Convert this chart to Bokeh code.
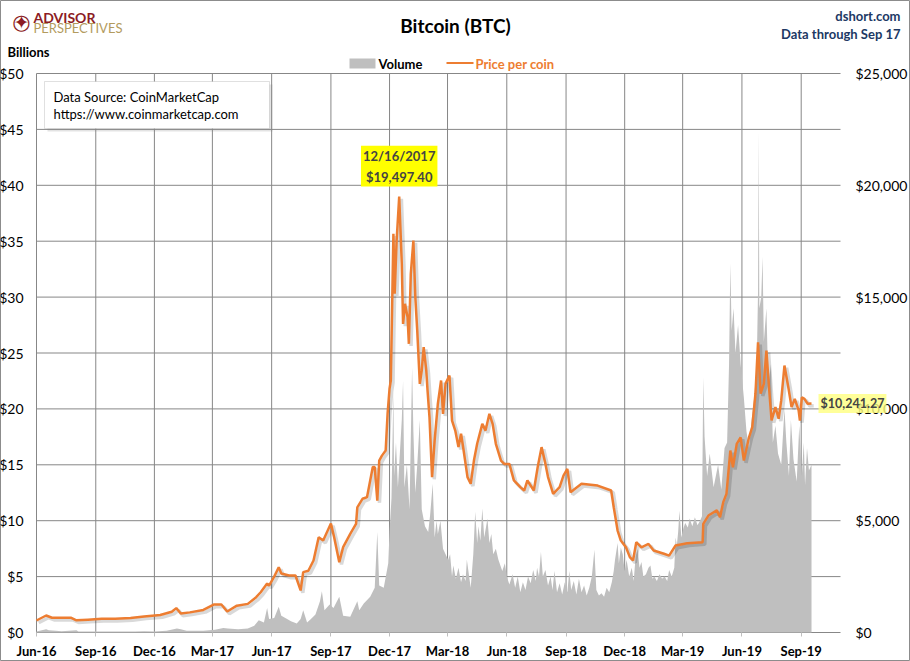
import pandas as pd
from bokeh.plotting import figure
from bokeh.models import (Range1d, LinearAxis, FixedTicker, NumeralTickFormatter,
                          DatetimeTickFormatter, MonthsTicker, Label, BoxAnnotation,
                          ColumnDataSource)
from bokeh.transform import dodge
from bokeh.embed import file_html
from bokeh.resources import INLINE

# ---------------- data ----------------
price_dates = [
    "2016-06-01", "2016-06-16", "2016-06-25", "2016-07-10", "2016-07-25", "2016-08-02",
    "2016-08-20", "2016-09-10", "2016-10-01", "2016-10-25", "2016-11-15", "2016-12-10",
    "2016-12-28", "2017-01-04", "2017-01-11", "2017-01-25", "2017-02-15", "2017-03-03",
    "2017-03-15", "2017-03-24", "2017-04-08", "2017-04-25", "2017-05-08", "2017-05-15",
    "2017-05-25", "2017-05-28", "2017-06-05", "2017-06-12", "2017-06-16", "2017-06-28",
    "2017-07-08", "2017-07-16", "2017-07-20", "2017-07-28", "2017-08-05", "2017-08-13",
    "2017-08-20", "2017-09-01", "2017-09-06", "2017-09-14", "2017-09-20", "2017-10-01",
    "2017-10-10", "2017-10-12", "2017-10-20", "2017-10-27", "2017-11-05", "2017-11-08",
    "2017-11-12", "2017-11-15", "2017-11-19", "2017-11-25", "2017-11-28", "2017-12-01",
    "2017-12-03", "2017-12-07", "2017-12-09", "2017-12-12", "2017-12-16", "2017-12-20",
    "2017-12-22", "2017-12-25", "2017-12-29", "2017-12-31", "2018-01-03", "2018-01-07",
    "2018-01-10", "2018-01-13", "2018-01-17", "2018-01-20", "2018-01-23", "2018-01-27",
    "2018-01-29", "2018-02-01", "2018-02-05", "2018-02-09", "2018-02-14", "2018-02-19",
    "2018-02-22", "2018-02-26", "2018-03-04", "2018-03-08", "2018-03-13", "2018-03-18",
    "2018-03-22", "2018-03-26", "2018-04-01", "2018-04-06", "2018-04-11", "2018-04-16",
    "2018-04-24", "2018-04-29", "2018-05-05", "2018-05-10", "2018-05-15", "2018-05-23",
    "2018-05-28", "2018-06-05", "2018-06-12", "2018-06-22", "2018-06-28", "2018-07-03",
    "2018-07-13", "2018-07-19", "2018-07-25", "2018-07-31", "2018-08-04", "2018-08-12",
    "2018-08-22", "2018-08-28", "2018-09-03", "2018-09-08", "2018-09-25", "2018-10-20",
    "2018-11-10", "2018-11-14", "2018-11-20", "2018-11-25", "2018-12-03", "2018-12-09",
    "2018-12-14", "2018-12-19", "2018-12-27", "2019-01-07", "2019-01-15", "2019-01-31",
    "2019-02-08", "2019-02-18", "2019-03-08", "2019-04-01", "2019-04-02", "2019-04-10",
    "2019-04-23", "2019-04-28", "2019-05-03", "2019-05-08", "2019-05-14", "2019-05-18",
    "2019-05-24", "2019-05-30", "2019-06-04", "2019-06-12", "2019-06-17", "2019-06-22",
    "2019-06-26", "2019-06-30", "2019-07-05", "2019-07-09", "2019-07-13", "2019-07-17",
    "2019-07-23", "2019-07-28", "2019-08-01", "2019-08-06", "2019-08-12", "2019-08-17",
    "2019-08-22", "2019-08-28", "2019-08-30", "2019-09-02", "2019-09-06", "2019-09-11",
    "2019-09-17",
]
price_usd = [
    537, 760, 660, 665, 655, 545,
    575, 610, 615, 650, 720, 780,
    930, 1090, 850, 900, 1010, 1250,
    1250, 940, 1200, 1280, 1580, 1800,
    2190, 2100, 2500, 2920, 2640, 2550,
    2550, 1880, 2700, 2760, 3220, 4260,
    4110, 4870, 4260, 3145, 3820, 4410,
    4860, 5600, 5980, 6050, 7400, 7400,
    5900, 7690, 7900, 8140, 9800, 10900,
    11270, 17830, 15150, 17530, 19497, 16490,
    13800, 14700, 14100, 12910, 16040, 17530,
    15000, 13500, 11120, 11720, 12760, 11720,
    10820, 9630, 6950, 8590, 10230, 11270,
    9780, 11130, 11490, 9480, 9030, 8290,
    8890, 8140, 6950, 6650, 7690, 8440,
    9330, 9030, 9780, 9330, 8440, 7690,
    7540, 7540, 6800, 6500, 6350, 6800,
    6350, 7400, 8290, 7540, 6950, 6200,
    6500, 7020, 7320, 6270, 6650, 6570,
    6350, 5600, 4560, 4110, 3810, 3370,
    3220, 4040, 3810, 3960, 3670, 3520,
    3440, 3890, 3990, 4040, 4860, 5230,
    5460, 5160, 5830, 6200, 8140, 7390,
    8440, 8730, 7690, 8730, 9180, 10680,
    12980, 10680, 11120, 12610, 10970, 9480,
    10080, 9560, 10380, 11940, 10970, 10080,
    10450, 9930, 9480, 10520, 10450, 10230,
    10241,
]

vol_dates = [
    "2016-06-01", "2016-06-16", "2016-06-20", "2016-07-01", "2016-07-10", "2016-08-02",
    "2016-08-05", "2016-09-01", "2016-10-01", "2016-11-01", "2016-11-15", "2016-12-01",
    "2016-12-20", "2017-01-05", "2017-01-11", "2017-01-20", "2017-02-15", "2017-03-05",
    "2017-03-18", "2017-03-25", "2017-04-10", "2017-04-25", "2017-05-05", "2017-05-12",
    "2017-05-20", "2017-05-25", "2017-05-28", "2017-06-05", "2017-06-12", "2017-06-16",
    "2017-06-25", "2017-07-01", "2017-07-10", "2017-07-16", "2017-07-20", "2017-07-26",
    "2017-08-01", "2017-08-08", "2017-08-15", "2017-08-18", "2017-08-22", "2017-08-30",
    "2017-09-05", "2017-09-14", "2017-09-20", "2017-10-01", "2017-10-12", "2017-10-15",
    "2017-10-22", "2017-11-01", "2017-11-08", "2017-11-12", "2017-11-15", "2017-11-22",
    "2017-11-29", "2017-12-01", "2017-12-04", "2017-12-07", "2017-12-08", "2017-12-11",
    "2017-12-14", "2017-12-17", "2017-12-20", "2017-12-22", "2017-12-24", "2017-12-28",
    "2018-01-01", "2018-01-05", "2018-01-07", "2018-01-10", "2018-01-13", "2018-01-17",
    "2018-01-20", "2018-01-25", "2018-01-30", "2018-02-02", "2018-02-06", "2018-02-09",
    "2018-02-12", "2018-02-14", "2018-02-18", "2018-02-22", "2018-02-26", "2018-03-02",
    "2018-03-05", "2018-03-08", "2018-03-10", "2018-03-14", "2018-03-18", "2018-03-22",
    "2018-03-25", "2018-03-29", "2018-03-31", "2018-04-06", "2018-04-10", "2018-04-13",
    "2018-04-16", "2018-04-18", "2018-04-21", "2018-04-24", "2018-04-27", "2018-05-02",
    "2018-05-05", "2018-05-08", "2018-05-11", "2018-05-15", "2018-05-19", "2018-05-25",
    "2018-05-29", "2018-06-01", "2018-06-05", "2018-06-10", "2018-06-14", "2018-06-18",
    "2018-06-22", "2018-06-26", "2018-06-30", "2018-07-04", "2018-07-08", "2018-07-12",
    "2018-07-16", "2018-07-18", "2018-07-21", "2018-07-24", "2018-07-27", "2018-07-31",
    "2018-08-04", "2018-08-08", "2018-08-11", "2018-08-14", "2018-08-18", "2018-08-22",
    "2018-08-26", "2018-08-30", "2018-09-03", "2018-09-06", "2018-09-09", "2018-09-13",
    "2018-09-17", "2018-09-21", "2018-09-25", "2018-09-29", "2018-10-03", "2018-10-07",
    "2018-10-11", "2018-10-15", "2018-10-18", "2018-10-22", "2018-10-26", "2018-10-30",
    "2018-11-03", "2018-11-07", "2018-11-11", "2018-11-14", "2018-11-16", "2018-11-20",
    "2018-11-22", "2018-11-25", "2018-11-28", "2018-12-01", "2018-12-04", "2018-12-08",
    "2018-12-12", "2018-12-15", "2018-12-18", "2018-12-21", "2018-12-24", "2018-12-27",
    "2018-12-30", "2019-01-03", "2019-01-07", "2019-01-10", "2019-01-13", "2019-01-16",
    "2019-01-20", "2019-01-24", "2019-01-28", "2019-02-01", "2019-02-05", "2019-02-08",
    "2019-02-12", "2019-02-16", "2019-02-18", "2019-02-20", "2019-02-22", "2019-02-24",
    "2019-02-27", "2019-03-02", "2019-03-05", "2019-03-09", "2019-03-12", "2019-03-16",
    "2019-03-20", "2019-03-24", "2019-03-28", "2019-03-31", "2019-04-02", "2019-04-04",
    "2019-04-08", "2019-04-12", "2019-04-18", "2019-04-25", "2019-04-30", "2019-05-05",
    "2019-05-09", "2019-05-12", "2019-05-14", "2019-05-16", "2019-05-19", "2019-05-22",
    "2019-05-26", "2019-05-30", "2019-06-04", "2019-06-08", "2019-06-12", "2019-06-16",
    "2019-06-20", "2019-06-24", "2019-06-26", "2019-06-27", "2019-06-28", "2019-07-01",
    "2019-07-03", "2019-07-05", "2019-07-09", "2019-07-12", "2019-07-16", "2019-07-19",
    "2019-07-23", "2019-07-27", "2019-08-01", "2019-08-06", "2019-08-09", "2019-08-13",
    "2019-08-16", "2019-08-20", "2019-08-25", "2019-08-29", "2019-09-02", "2019-09-05",
    "2019-09-07", "2019-09-10", "2019-09-13", "2019-09-17",
]
vol_bn = [
    0.10, 0.30, 0.20, 0.15, 0.12, 0.20,
    0.10, 0.08, 0.08, 0.10, 0.12, 0.10,
    0.15, 0.35, 0.30, 0.15, 0.15, 0.25,
    0.40, 0.35, 0.30, 0.35, 0.60, 1.10,
    0.90, 2.20, 1.20, 1.30, 2.30, 1.50,
    1.20, 1.00, 0.80, 1.20, 2.00, 0.90,
    1.20, 1.60, 2.80, 3.70, 2.00, 2.50,
    2.20, 3.20, 1.50, 1.40, 2.80, 2.00,
    2.60, 3.20, 4.00, 9.00, 4.20, 4.00,
    6.20, 9.00, 12.0, 21.5, 14.0, 17.0,
    13.0, 16.0, 19.0, 22.5, 13.0, 15.0,
    11.0, 23.7, 18.0, 12.5, 15.0, 19.0,
    11.0, 9.5, 9.0, 10.5, 13.3, 8.5,
    10.0, 8.8, 10.0, 7.5, 7.0, 6.5,
    7.0, 5.0, 6.0, 4.8, 5.8, 4.5,
    5.2, 4.6, 6.5, 4.0, 7.0, 10.8,
    8.0, 9.5, 8.2, 11.1, 8.5, 10.2,
    8.0, 8.8, 7.0, 7.5, 6.5, 5.5,
    6.2, 5.0, 4.3, 5.2, 4.0, 5.0,
    3.6, 4.5, 3.8, 5.0, 4.4, 5.6,
    4.6, 5.8, 5.0, 7.2, 5.0, 5.6,
    4.2, 5.0, 3.8, 5.5, 3.6, 4.4,
    3.4, 4.5, 3.6, 5.5, 3.8, 4.6,
    3.4, 4.8, 3.6, 4.2, 3.3, 4.0,
    5.0, 7.4, 3.8, 3.3, 3.5, 3.2,
    4.0, 3.6, 4.5, 5.5, 6.5, 8.0,
    6.2, 7.6, 7.0, 5.5, 6.5, 5.0,
    5.8, 4.6, 6.8, 7.5, 5.8, 6.3,
    5.0, 5.2, 5.8, 6.0, 4.8, 5.0,
    4.6, 5.2, 4.8, 5.0, 4.6, 5.6,
    5.0, 5.8, 8.5, 7.8, 9.0, 10.9,
    8.5, 9.3, 9.8, 9.4, 10.2, 9.5,
    10.3, 9.6, 10.0, 10.4, 22.8, 17.5,
    14.0, 16.0, 13.0, 15.0, 12.8, 16.5,
    17.0, 24.0, 33.0, 27.0, 29.0, 25.0,
    27.5, 24.0, 21.0, 18.0, 16.5, 19.0,
    21.0, 24.0, 30.5, 45.0, 29.0, 30.0,
    33.6, 26.0, 29.0, 22.0, 24.0, 17.0,
    18.5, 16.0, 15.0, 20.0, 17.0, 14.0,
    19.0, 15.5, 13.5, 18.5, 14.0, 17.0,
    13.2, 16.5, 14.5, 15.0,
]

left_ticks = [0, 5, 10, 15, 20, 25, 30, 35, 40, 45, 50]
right_ticks = [0, 5000, 10000, 15000, 20000, 25000]
axis_start, axis_end = "2016-06-01", "2019-11-01"
quarter_start, quarter_end = "2016-06-01", "2019-09-01"

title_text = "Bitcoin (BTC)"
peak_label = "12/16/2017\n$19,497.40"
last_label = "$10,241.27"

# ---------------- layout (pixels) ----------------
FONT = "Lato"
W, H = 910, 661
X0_PX, X1_PX = 36, 840      # axis start / end on the canvas
Y0_PX, Y1_PX = 632, 73      # value 0 / value 50 on the canvas
VMAX, PMAX = 50, 25000

t0 = pd.Timestamp(axis_start).value / 1e6
t1 = pd.Timestamp(axis_end).value / 1e6
px_per_ms = (X1_PX - X0_PX) / (t1 - t0)
x_lo = t0 - X0_PX / px_per_ms
x_hi = t1 + (W - X1_PX) / px_per_ms
u_per_px = VMAX / (Y0_PX - Y1_PX)
y_lo = -(H - Y0_PX) * u_per_px
y_hi = VMAX + Y1_PX * u_per_px
ratio = PMAX / VMAX

p = figure(width=W, height=H, output_backend="svg", toolbar_location=None,
           x_axis_type="datetime", x_range=Range1d(x_lo, x_hi),
           y_range=Range1d(y_lo, y_hi),
           min_border=0, min_border_left=0, min_border_right=0,
           min_border_top=0, min_border_bottom=0)
p.title.visible = False
p.outline_line_color = "#8C8C8C"
p.background_fill_color = "white"
p.border_fill_color = "white"
p.extra_y_ranges = {"price": Range1d(y_lo * ratio, y_hi * ratio)}
p.xgrid.visible = False
p.ygrid.visible = False

# grid lines (at the tick positions, limited to the plot area)
GRID = "#878787"
p.segment(x0=[pd.Timestamp(axis_start)] * len(left_ticks), y0=left_ticks,
          x1=[pd.Timestamp(axis_end)] * len(left_ticks), y1=left_ticks,
          line_color=GRID, line_width=1, level="underlay")
qdates = pd.date_range(quarter_start, quarter_end, freq="3MS")
p.segment(x0=qdates, y0=[0] * len(qdates), x1=qdates, y1=[VMAX] * len(qdates),
          line_color=GRID, line_width=1, level="underlay")

vsrc = ColumnDataSource(dict(date=pd.to_datetime(vol_dates), vol=vol_bn))
psrc = ColumnDataSource(dict(date=pd.to_datetime(price_dates), price=price_usd))

p.varea(x="date", y1=0, y2="vol", source=vsrc, fill_color="#BFBFBF")
# soft drop shadow of the price line
p.line(x=dodge("date", 2.2 / px_per_ms), y=dodge("price", -2.2 * u_per_px * ratio),
       source=psrc, y_range_name="price", line_color="#000000", line_alpha=0.15,
       line_width=3.5)
p.line(x="date", y="price", source=psrc, y_range_name="price",
       line_color="#ED7D31", line_width=2.5)

# axes (fixed at the plot-area edges so they take no panel space)
yl = p.yaxis[0]
yl.fixed_location = t0
yl.ticker = FixedTicker(ticks=left_ticks)
yl.formatter = NumeralTickFormatter(format="$0")
yl.axis_line_color = None
yl.major_tick_line_color = None
yl.minor_tick_line_color = None
yl.major_tick_out = 0
yl.major_tick_in = 0
yl.major_label_standoff = 13
yl.major_label_text_font = FONT
yl.major_label_text_font_size = "14px"
yl.major_label_text_color = "#000000"

yr = LinearAxis(y_range_name="price", ticker=FixedTicker(ticks=right_ticks),
                formatter=NumeralTickFormatter(format="$0,0"), fixed_location=t1)
yr.axis_line_color = None
yr.major_tick_line_color = None
yr.minor_tick_line_color = None
yr.major_tick_out = 0
yr.major_tick_in = 0
yr.major_label_standoff = 15
yr.major_label_text_font = FONT
yr.major_label_text_font_size = "14px"
yr.major_label_text_color = "#000000"
p.add_layout(yr, "right")

xa = p.xaxis[0]
xa.fixed_location = 0
xa.bounds = (t0, t1)
xa.ticker = MonthsTicker(months=[2, 5, 8, 11])
xa.formatter = DatetimeTickFormatter(months="%b-%y", days="%b-%y", years="%b-%y")
xa.axis_line_color = None
xa.major_tick_line_color = "#BFBFBF"
xa.major_tick_out = 4
xa.major_tick_in = 0
xa.minor_tick_line_color = None
xa.major_label_standoff = 6
xa.major_label_text_font = FONT
xa.major_label_text_font_style = "bold"
xa.major_label_text_font_size = "13px"
xa.major_label_text_color = "#000000"


# ---------------- texts (screen units; the plot frame covers the canvas) ----------------
def label(text, px, py, size="14px", bold=False, color="#000000", align="left",
          font=FONT, **kw):
    lb = Label(x=px, y=H - py, x_units="screen", y_units="screen", text=text,
               text_font=font, text_font_size=size,
               text_font_style="bold" if bold else "normal",
               text_color=color, text_align=align, text_baseline="middle", **kw)
    p.add_layout(lb)
    return lb


def box(l, t, r, b, **kw):
    ba = BoxAnnotation(left=l, right=r, top=H - t, bottom=H - b,
                       left_units="screen", right_units="screen",
                       top_units="screen", bottom_units="screen", **kw)
    p.add_layout(ba)
    return ba


# header
label(title_text, 455, 25, size="19px", bold=True, align="center")
label("dshort.com", 900, 15, size="13px", bold=True, color="#203864", align="right")
label("Data through Sep 17", 900, 33, size="13px", bold=True, color="#203864", align="right")
label("Billions", 7, 51, size="13px", bold=True)

# logo
label("\u25CB", 21, 21, size="21px", color="#8C1C24", align="center", font="DejaVu Sans")
label("\u2726", 21, 21, size="19px", color="#8C1C24", align="center", font="DejaVu Sans")
label("ADVISOR", 33, 17, size="14px", bold=True, color="#8C1C24")
label("PERSPECTIVES", 33, 27, size="13px", color="#B39B5E")

# legend
box(349, 58, 375, 68, fill_color="#BFBFBF", fill_alpha=1.0, line_color=None)
label("Volume", 378, 63, size="13px", bold=True)
box(446, 61.5, 473, 63.5, fill_color="#ED7D31", fill_alpha=1.0, line_color=None)
label("Price per coin", 475, 63, size="13px", bold=True, color="#ED7D31")

# data-source box
box(47, 84, 272, 131, fill_color="#7F7F7F", fill_alpha=0.22, line_color=None)
box(44, 81, 269, 128, fill_color="white", fill_alpha=1.0, line_color="#999999", line_width=1)
label("Data Source: CoinMarketCap", 53, 96, size="13px")
label("https://www.coinmarketcap.com", 53, 113, size="13px")

# data annotations
i_peak = max(range(len(price_usd)), key=lambda i: price_usd[i])
peak = Label(x=pd.Timestamp(price_dates[i_peak]), y=price_usd[i_peak], y_range_name="price",
             text=peak_label, text_font=FONT, text_font_size="13px", text_font_style="bold",
             text_align="center", text_baseline="bottom", x_offset=0, y_offset=10,
             background_fill_color="#FFFF00", background_fill_alpha=1.0,
             text_line_height=1.3, padding=2)
p.add_layout(peak)

last = Label(x=pd.Timestamp(price_dates[-1]), y=price_usd[-1], y_range_name="price",
             text=last_label, text_font=FONT, text_font_size="12.5px", text_font_style="bold",
             text_align="left", text_baseline="middle", x_offset=7,
             background_fill_color="#FFFF80", background_fill_alpha=0.8, padding=2)
p.add_layout(last)

open("out.html", "w").write(file_html(p, INLINE))
